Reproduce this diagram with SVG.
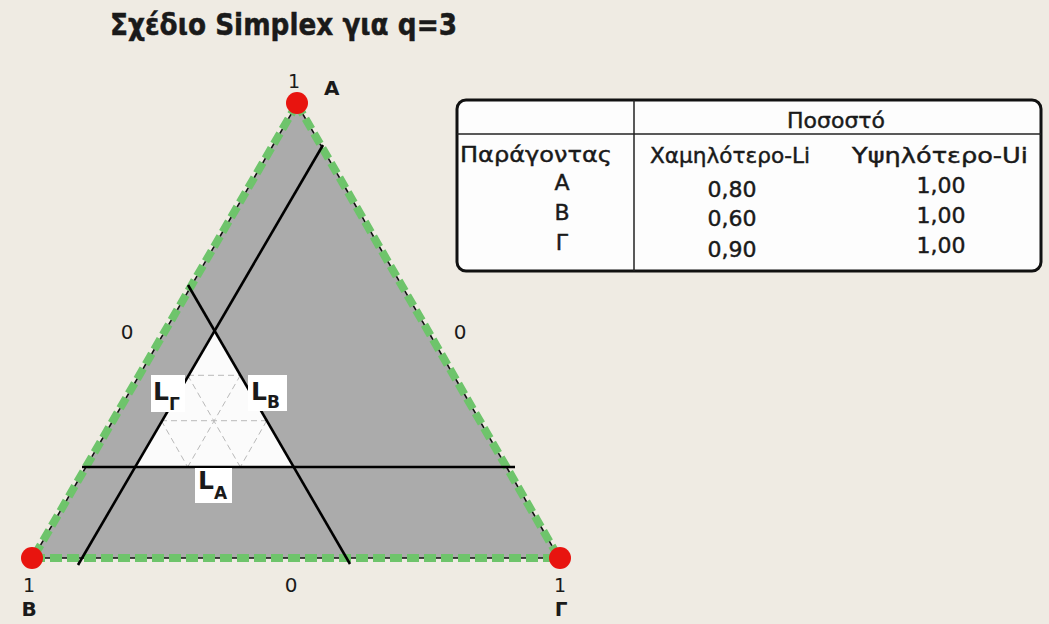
<svg xmlns="http://www.w3.org/2000/svg" width="1049" height="624" viewBox="0 0 1049 624">
<style>
.t{font-family:"DejaVu Sans",Verdana,sans-serif;fill:#1a1a1a}
.b{font-weight:bold}
.tb{stroke:#1a1a1a;stroke-width:0.45}
.edgeG{fill:none;stroke:#6ec46b;stroke-width:8;stroke-dasharray:12 5}
.edgeK{fill:none;stroke:#111;stroke-width:1.6;stroke-dasharray:5 12;stroke-dashoffset:5}
.ln{stroke:#000;stroke-width:2.6;fill:none}
.grid{stroke:#b9b9b9;stroke-width:1;stroke-dasharray:6 4;fill:none}
.lbl{fill:#fff}
.vtx{fill:#e8140f}
</style>
<rect width="1049" height="624" fill="#efebe3"/>
<text class="t b" x="110" y="35" font-size="30" textLength="347" lengthAdjust="spacingAndGlyphs" stroke="#1a1a1a" stroke-width="0.5">Σχέδιο Simplex για q=3</text>

<g id="simplex">
<polygon points="297,104 33,558 559,558" fill="#ababab"/>
<polygon points="214,330 135,467 293,467" fill="#fbfbfb"/>
<g id="grid">
<line class="grid" x1="188" y1="375.3" x2="240" y2="375.3"/>
<line class="grid" x1="161" y1="420.7" x2="267" y2="420.7"/>
<line class="grid" x1="240.3" y1="375.3" x2="187.7" y2="467"/>
<line class="grid" x1="266.7" y1="420.7" x2="240.3" y2="467"/>
<line class="grid" x1="187.7" y1="375.3" x2="240.3" y2="467"/>
<line class="grid" x1="161.3" y1="420.7" x2="187.7" y2="467"/>
</g>
<g id="edges">
<polyline class="edgeG" points="297,104 33,558"/>
<polyline class="edgeG" points="33,558 559,558"/>
<polyline class="edgeG" points="297,104 559,558"/>
<polyline class="edgeK" points="297,104 33,558"/>
<polyline class="edgeK" points="33,558 559,558"/>
<polyline class="edgeK" points="297,104 559,558"/>
</g>
</g>

<g id="connectors">
<line class="ln" x1="82" y1="467" x2="515" y2="467"/>
<line class="ln" x1="188" y1="285" x2="350" y2="564"/>
<line class="ln" x1="323" y1="145" x2="78" y2="565"/>
</g>

<g id="label-LG">
<rect class="lbl" x="151" y="375" width="34" height="37"/>
<text class="t b" x="153" y="400" font-size="25">L<tspan font-size="17" dy="10">Γ</tspan></text>
</g>
<g id="label-LB">
<rect class="lbl" x="248" y="375" width="39" height="36"/>
<text class="t b" x="251" y="400" font-size="25">L<tspan font-size="17" dy="8">B</tspan></text>
</g>
<g id="label-LA">
<rect class="lbl" x="195" y="468" width="37" height="35"/>
<text class="t b" x="198" y="489" font-size="25">L<tspan font-size="17" dy="10">A</tspan></text>
</g>

<g id="vertex-A">
<circle class="vtx" cx="297" cy="103" r="11"/>
<text class="t" x="294" y="88" font-size="19" text-anchor="middle">1</text>
<text class="t b" x="324" y="95" font-size="20">A</text>
</g>
<g id="vertex-B">
<circle class="vtx" cx="32" cy="558" r="11"/>
<text class="t" x="29" y="592" font-size="19" text-anchor="middle">1</text>
<text class="t b" x="29" y="616" font-size="20" text-anchor="middle">B</text>
</g>
<g id="vertex-G">
<circle class="vtx" cx="560" cy="558" r="11"/>
<text class="t" x="560" y="592" font-size="19" text-anchor="middle">1</text>
<text class="t b" x="561" y="616" font-size="20" text-anchor="middle">Γ</text>
</g>
<g id="axis-zeros">
<text class="t" x="127" y="339" font-size="20" text-anchor="middle">0</text>
<text class="t" x="460" y="339" font-size="20" text-anchor="middle">0</text>
<text class="t" x="291" y="592" font-size="20" text-anchor="middle">0</text>
</g>

<g id="table">
<rect x="457" y="100" width="584" height="171" rx="9" fill="#fdfdfd" stroke="#111" stroke-width="3"/>
<line x1="457" y1="134" x2="1041" y2="134" stroke="#222" stroke-width="1.5"/>
<line x1="634" y1="100" x2="634" y2="271" stroke="#222" stroke-width="1.5"/>
<g class="tb">
<text class="t" x="836" y="128" font-size="22" text-anchor="middle">Ποσοστό</text>
<text class="t" x="460" y="162" font-size="22" textLength="152" lengthAdjust="spacingAndGlyphs">Παράγοντας</text>
<text class="t" x="650" y="163" font-size="22" textLength="160" lengthAdjust="spacingAndGlyphs">Χαμηλότερο-Li</text>
<text class="t" x="852" y="163" font-size="22" textLength="176" lengthAdjust="spacingAndGlyphs">Υψηλότερο-Ui</text>
<text class="t" x="562" y="190" font-size="22" text-anchor="middle">A</text>
<text class="t" x="562" y="220" font-size="22" text-anchor="middle">B</text>
<text class="t" x="562" y="250" font-size="22" text-anchor="middle">Γ</text>
<text class="t" x="732" y="197" font-size="22" text-anchor="middle">0,80</text>
<text class="t" x="732" y="226" font-size="22" text-anchor="middle">0,60</text>
<text class="t" x="732" y="257" font-size="22" text-anchor="middle">0,90</text>
<text class="t" x="941" y="193" font-size="22" text-anchor="middle">1,00</text>
<text class="t" x="941" y="223" font-size="22" text-anchor="middle">1,00</text>
<text class="t" x="941" y="253" font-size="22" text-anchor="middle">1,00</text>
</g>
</g>
</svg>
